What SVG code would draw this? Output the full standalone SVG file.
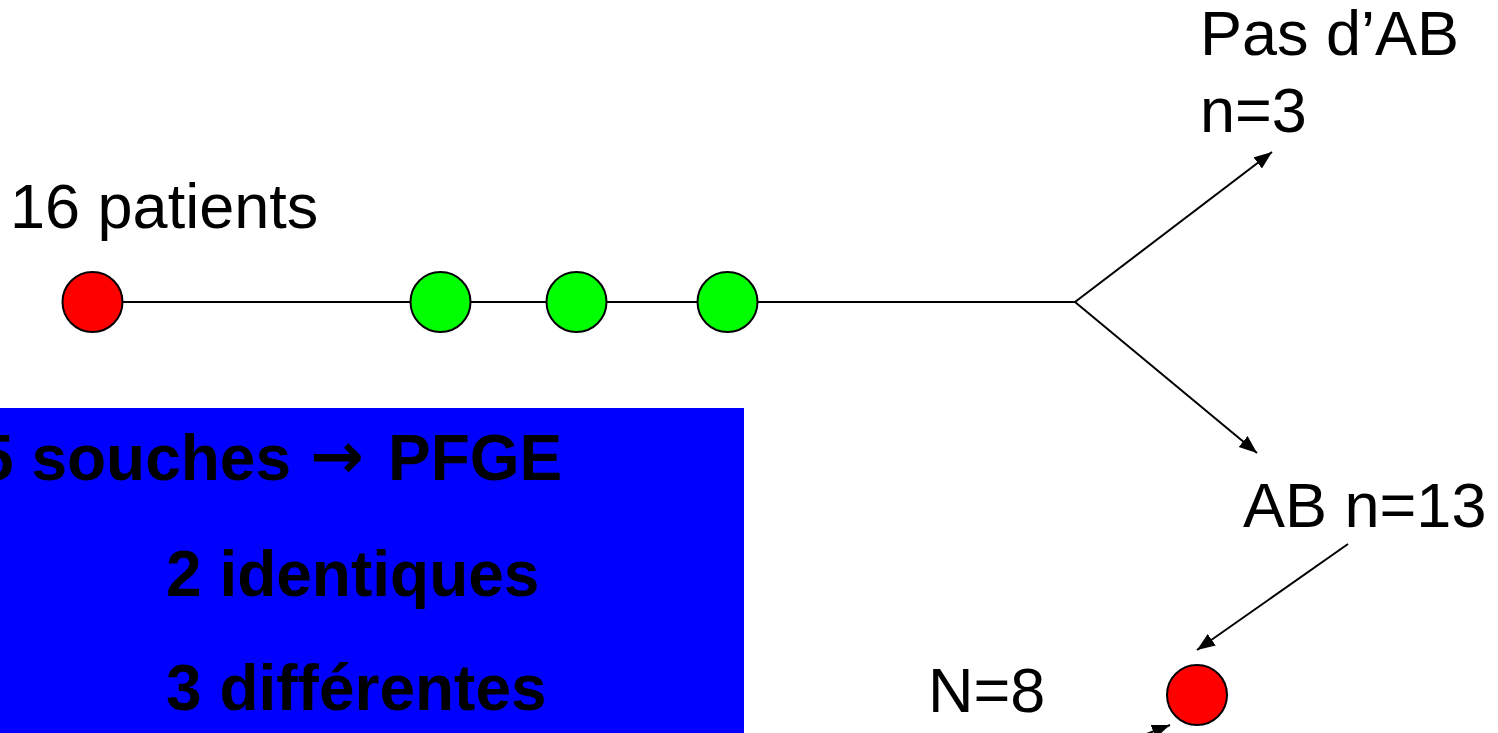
<svg xmlns="http://www.w3.org/2000/svg" width="1498" height="733" viewBox="0 0 1498 733">
<style>
.t{font-family:"Liberation Sans",Arial,sans-serif;font-size:63px;fill:#000}
.b{font-family:"Liberation Sans",Arial,sans-serif;font-size:64px;font-weight:bold;fill:#000}
.arw{font-family:"DejaVu Sans",sans-serif;font-weight:bold}
.ln{stroke:#000;stroke-width:2;fill:none}
.red{fill:#FF0000;stroke:#000;stroke-width:2}
.grn{fill:#00FF00;stroke:#000;stroke-width:2}
</style>
<defs>
<marker id="ah" markerUnits="userSpaceOnUse" markerWidth="20" markerHeight="16" refX="18" refY="7" orient="auto">
<path d="M0,0 L18,7 L0,14 z" fill="#000"/>
</marker>
</defs>
<rect width="1498" height="733" fill="#fff"/>
<g id="connectors">
<line class="ln" x1="93" y1="302" x2="1075" y2="302"/>
<line class="ln" x1="1075" y1="302" x2="1272" y2="152" marker-end="url(#ah)"/>
<line class="ln" x1="1075" y1="302" x2="1257" y2="453" marker-end="url(#ah)"/>
<line class="ln" x1="1348" y1="544" x2="1197" y2="650" marker-end="url(#ah)"/>
<line class="ln" x1="1110" y1="748" x2="1170" y2="725" marker-end="url(#ah)"/>
</g>
<g id="start-node"><circle class="red" cx="92.5" cy="302" r="30"/></g>
<g id="green-1"><circle class="grn" cx="440.5" cy="302" r="30"/></g>
<g id="green-2"><circle class="grn" cx="576.5" cy="302" r="30"/></g>
<g id="green-3"><circle class="grn" cx="727.5" cy="302" r="30"/></g>
<g id="end-node"><circle class="red" cx="1197" cy="695" r="30"/></g>
<g id="label-patients"><text class="t" x="10" y="228">16 patients</text></g>
<g id="label-pas-ab"><text class="t" x="1200" y="55">Pas d’AB</text><text class="t" x="1200" y="132">n=3</text></g>
<g id="label-ab"><text class="t" x="1243" y="527">AB n=13</text></g>
<g id="label-n8"><text class="t" x="928" y="712">N=8</text></g>
<g id="blue-box">
<rect x="0" y="408" width="744" height="325" fill="#0000FF"/>
<text class="b" y="480"><tspan x="-22">5 souches</tspan><tspan class="arw" x="310" y="478">→</tspan><tspan x="388" y="480">PFGE</tspan></text>
<text class="b" x="166" y="596">2 identiques</text>
<text class="b" x="166" y="710">3 différentes</text>
</g>
</svg>
